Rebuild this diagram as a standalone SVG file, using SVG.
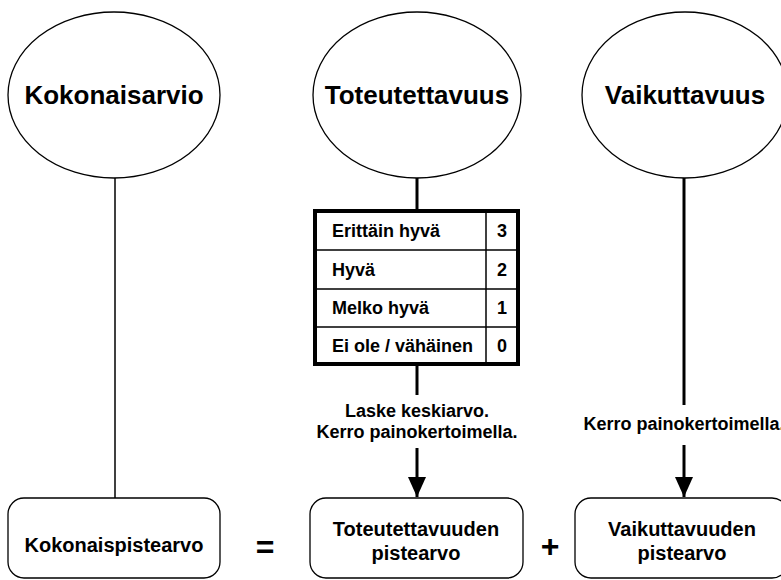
<svg xmlns="http://www.w3.org/2000/svg" width="781" height="580" viewBox="0 0 781 580">
<style>
.t{font-family:"Liberation Sans",Arial,sans-serif;font-weight:bold;fill:#000}
.big{font-size:26px}
.mid{font-size:20px}
.sm{font-size:18px}
.c{text-anchor:middle}
.shape{fill:#fff;stroke:#000;stroke-width:1.3}
.thin{stroke:#000;stroke-width:1.5;fill:none}
.thick{stroke:#000;stroke-width:3;fill:none}
</style>
<defs>
<marker id="ah" markerUnits="userSpaceOnUse" markerWidth="20" markerHeight="18" refX="20" refY="9" orient="auto">
<path d="M0,0 L20,9 L0,18 Z" fill="#000"/>
</marker>
</defs>
<g id="connectors">
<line class="thin" x1="115" y1="178" x2="115" y2="498"/>
<line class="thick" x1="417" y1="178" x2="417" y2="211"/>
<line class="thick" x1="417" y1="364" x2="417" y2="395"/>
<line class="thick" x1="417" y1="448" x2="417" y2="497" marker-end="url(#ah)"/>
<line class="thick" x1="684" y1="178" x2="684" y2="405"/>
<line class="thick" x1="684" y1="445" x2="684" y2="497" marker-end="url(#ah)"/>
</g>
<g id="kokonaisarvio">
<ellipse class="shape" cx="114" cy="95" rx="106" ry="83"/>
<text class="t big c" x="114" y="104">Kokonaisarvio</text>
</g>
<g id="toteutettavuus">
<ellipse class="shape" cx="417" cy="95" rx="104" ry="83"/>
<text class="t big c" x="417" y="104">Toteutettavuus</text>
</g>
<g id="vaikuttavuus">
<ellipse class="shape" cx="685" cy="95" rx="103" ry="83"/>
<text class="t big c" x="685" y="104">Vaikuttavuus</text>
</g>
<g id="taulukko">
<rect x="315" y="211" width="203" height="153" fill="#fff" stroke="#000" stroke-width="4"/>
<line class="thin" x1="315" y1="250" x2="518" y2="250"/>
<line class="thin" x1="315" y1="289" x2="518" y2="289"/>
<line class="thin" x1="315" y1="327" x2="518" y2="327"/>
<line class="thin" x1="486" y1="211" x2="486" y2="364"/>
<text class="t sm" x="332" y="237">Erittäin hyvä</text>
<text class="t sm" x="332" y="276">Hyvä</text>
<text class="t sm" x="332" y="314">Melko hyvä</text>
<text class="t sm" x="332" y="352">Ei ole / vähäinen</text>
<text class="t sm c" x="502" y="237">3</text>
<text class="t sm c" x="502" y="276">2</text>
<text class="t sm c" x="502" y="314">1</text>
<text class="t sm c" x="502" y="352">0</text>
</g>
<g id="label-toteutettavuus">
<text class="t sm c" x="417" y="417">Laske keskiarvo.</text>
<text class="t sm c" x="417" y="438">Kerro painokertoimella.</text>
</g>
<g id="label-vaikuttavuus">
<text class="t sm c" x="684" y="430">Kerro painokertoimella.</text>
</g>
<g id="kokonaispistearvo">
<rect class="shape" x="8" y="498" width="212" height="80" rx="16"/>
<text class="t mid c" x="114" y="552">Kokonaispistearvo</text>
</g>
<g id="yhtasuuri">
<text class="t c" style="font-size:32px" x="265" y="558">=</text>
</g>
<g id="toteutettavuuden-pistearvo">
<rect class="shape" x="310" y="498" width="213" height="80" rx="16"/>
<text class="t mid c" x="416" y="536">Toteutettavuuden</text>
<text class="t mid c" x="416" y="560">pistearvo</text>
</g>
<g id="plus">
<text class="t c" style="font-size:32px" x="550" y="557">+</text>
</g>
<g id="vaikuttavuuden-pistearvo">
<rect class="shape" x="575" y="498" width="213" height="80" rx="16"/>
<text class="t mid c" x="682" y="536">Vaikuttavuuden</text>
<text class="t mid c" x="682" y="560">pistearvo</text>
</g>
</svg>
